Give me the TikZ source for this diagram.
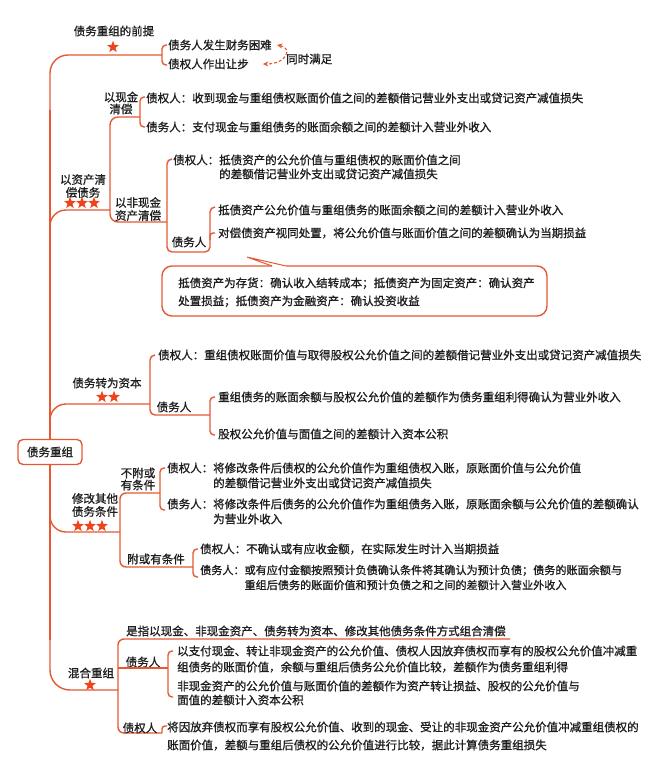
\documentclass[tikz,border=0pt]{standalone}
\usepackage{fontspec}
\newfontfamily\cjk{Noto Sans CJK SC}[FakeBold=1]
\usetikzlibrary{shapes.geometric,arrows.meta}
\definecolor{lc}{RGB}{230,88,52}
\definecolor{sc}{RGB}{238,68,28}
\definecolor{tc}{RGB}{30,30,30}
\tikzset{
  ln/.style={draw=lc, line width=1.4pt},
  txt/.style={font=\cjk\fontsize{11.5}{15}\selectfont, text=tc, inner sep=0pt, anchor=west, align=left},
  mtxt/.style={txt, anchor=north west},
  lbl/.style={txt, anchor=center, align=center},
  starn/.style={star, star points=5, star point ratio=2.4, fill=sc, draw=none, inner sep=0pt, minimum size=12.5pt},
  rootbox/.style={lbl, draw=lc, fill=white, line width=1.4pt, rounded corners=5pt, minimum width=64pt, minimum height=25pt},
}
\begin{document}
\begin{tikzpicture}[x=1pt,y=-1pt]
\useasboundingbox (0,0) rectangle (650,758);
\fill[white] (0,0) rectangle (650,758);

% ---------- trunk and branches ----------
\coordinate (ttop) at (50,110);
\coordinate (tbot) at (50,640);
\draw[ln] (ttop) -- (tbot);
\draw[ln, rounded corners=18] (ttop) |- (162,55);
\draw[ln, rounded corners=16] (50,240) |- (110,210);
\draw[ln, rounded corners=16] (50,430) |- (150,404);
\draw[ln, rounded corners=16] (50,505) |- (120,532);
\draw[ln, rounded corners=20] (tbot) |- (118,690);
\node[rootbox] (root) at (50,452) {债务重组};

% ---------- 前提 ----------
\node[lbl] (t0) at (114,31) {债务重组的前提};
\node[starn] (s0) at (113,47) {};
\draw[ln, rounded corners=4] (167,45) -| (162,65) -- (167,65);
\node[txt] (p1) at (168,45) {债务人发生财务困难};
\node[txt] (p2) at (168,64) {债权人作出让步};
\node[txt] (tm) at (286,59) {同时满足};
\draw[lc, line width=1.1pt, dash pattern=on 3pt off 2pt, {Stealth[length=5.5pt,width=5pt]}-{Stealth[length=5.5pt,width=5pt]}]
  ([xshift=5pt]p1.east) .. controls +(16,3) and +(24,0) .. ([xshift=14pt]p2.east);

% ---------- 以资产清偿债务 ----------
\node[lbl] (a0) at (83,186) {以资产清\\[-2pt]偿债务};
\node[starn] (a0s1) at (70,203) {};
\node[starn] (a0s2) at (82,203) {};
\node[starn] (a0s3) at (94,203) {};
\draw[ln, rounded corners=8] (140,117) -| (110,222) -- (167,222);
\node[lbl] (a1) at (121,103) {以现金\\[-3pt]清偿};
\draw[ln, rounded corners=4] (145,97) -| (140,127) -- (145,127);
\node[txt] (c1) at (146,98) {债权人：收到现金与重组债权账面价值之间的差额借记营业外支出或贷记资产减值损失};
\node[txt] (c2) at (146,127) {债务人：支付现金与重组债务的账面余额之间的差额计入营业外收入};

\node[lbl] (a2) at (138,209) {以非现金\\[-2pt]资产清偿};
\draw[ln, rounded corners=5] (172,159) -| (167,252) -| (210,207) -- (215,207);
\draw[ln, rounded corners=3] (210,240) |- (215,233);
\node[mtxt] (n1) at (173,154.4) {债权人：抵债资产的公允价值与重组债权的账面价值之间\\[-1pt]\hphantom{债权人：}的差额借记营业外支出或贷记资产减值损失};
\node[lbl] (nd) at (189,242) {债务人};
\node[txt] (n2) at (218,210) {抵债资产公允价值与重组债务的账面余额之间的差额计入营业外收入};
\node[txt] (n3) at (218,233) {对偿债资产视同处置，将公允价值与账面价值之间的差额确认为当期损益};

% callout
\draw[ln, rounded corners=10] (286,266) -- (547,266) -- (547,316) -- (162,316) -- (162,266) -- (272,266);
\draw[ln, line width=1pt, line join=miter] (272,266) -- (247,257) -- (286,266);
\node[mtxt] (cb) at (178,277.3) {抵债资产为存货：确认收入结转成本；抵债资产为固定资产：确认资产\\[3pt]处置损益；抵债资产为金融资产：确认投资收益};

% ---------- 债务转为资本 ----------
\node[lbl] (b0) at (107,383) {债务转为资本};
\node[starn] (b0s1) at (102,397) {};
\node[starn] (b0s2) at (114,397) {};
\draw[ln, rounded corners=5] (155,355) -| (150,415) -- (210,415);
\draw[ln, rounded corners=4] (215,397) -| (210,435) -- (215,435);
\node[txt] (bc) at (158,355) {债权人：重组债权账面价值与取得股权公允价值之间的差额借记营业外支出或贷记资产减值损失};
\node[lbl] (bd) at (174,407) {债务人};
\node[txt] (bd1) at (218,397) {重组债务的账面余额与股权公允价值的差额作为债务重组利得确认为营业外收入};
\node[txt] (bd2) at (218,434) {股权公允价值与面值之间的差额计入资本公积};

% ---------- 修改其他债务条件 ----------
\node[lbl] (m0) at (95,505) {修改其他\\[-2pt]债务条件};
\node[starn] (m0s1) at (78,526) {};
\node[starn] (m0s2) at (90,526) {};
\node[starn] (m0s3) at (102,526) {};
\draw[ln, rounded corners=6] (160,493) -| (120,567) -- (193,567);
\draw[ln, rounded corners=4] (165,468) -| (160,510) -- (165,510);
\node[lbl] (m1l) at (138,479) {不附或\\[-3pt]有条件};
\node[mtxt] (m1) at (167,462.4) {债权人：将修改条件后债权的公允价值作为重组债权入账，原账面价值与公允价值\\\hphantom{债权人：}的差额借记营业外支出或贷记资产减值损失};
\node[mtxt] (m2) at (167,498.4) {债务人：将修改条件后债务的公允价值作为重组债务入账，原账面余额与公允价值的差额确认\\\hphantom{债务人：}为营业外收入};
\node[lbl] (m2l) at (156,559) {附或有条件};
\draw[ln, rounded corners=4] (198,549) -| (193,577) -- (198,577);
\node[txt] (m3) at (200,549) {债权人：不确认或有应收金额，在实际发生时计入当期损益};
\node[mtxt, font=\cjk\fontsize{11.1}{15}\selectfont] (m4) at (200,564.6) {债务人：或有应付金额按照预计负债确认条件将其确认为预计负债；债务的账面余额与\\\hphantom{债务人：}重组后债务的账面价值和预计负债之和之间的差额计入营业外收入};

% ---------- 混合重组 ----------
\node[lbl] (h0) at (91,673) {混合重组};
\node[starn] (h0s) at (90,685) {};
\draw[ln, rounded corners=6] (510,639) -| (118,733) -- (162,733);
\draw[ln, rounded corners=3] (162,733) |- (167,726);
\node[txt] (h1) at (126,631) {是指以现金、非现金资产、债务转为资本、修改其他债务条件方式组合清偿};
\node[lbl] (hd) at (143,662) {债务人};
\draw[ln] (118,668) -- (168,668);
\draw[ln, rounded corners=4] (173,651) -| (168,697) -- (173,697);
\node[mtxt] (hd1) at (177,645.4) {以支付现金、转让非现金资产的公允价值、债权人因放弃债权而享有的股权公允价值冲减重\\[1pt]组债务的账面价值，余额与重组后债务公允价值比较，差额作为债务重组利得};
\node[mtxt] (hd2) at (177,680.4) {非现金资产的公允价值与账面价值的差额作为资产转让损益、股权的公允价值与\\[-1pt]面值的差额计入资本公积};
\node[lbl] (hc) at (140,728) {债权人};
\node[mtxt] (hc1) at (167,721.4) {将因放弃债权而享有股权公允价值、收到的现金、受让的非现金资产公允价值冲减重组债权的\\[3pt]账面价值，差额与重组后债权的公允价值进行比较，据此计算债务重组损失};
\end{tikzpicture}
\end{document}
